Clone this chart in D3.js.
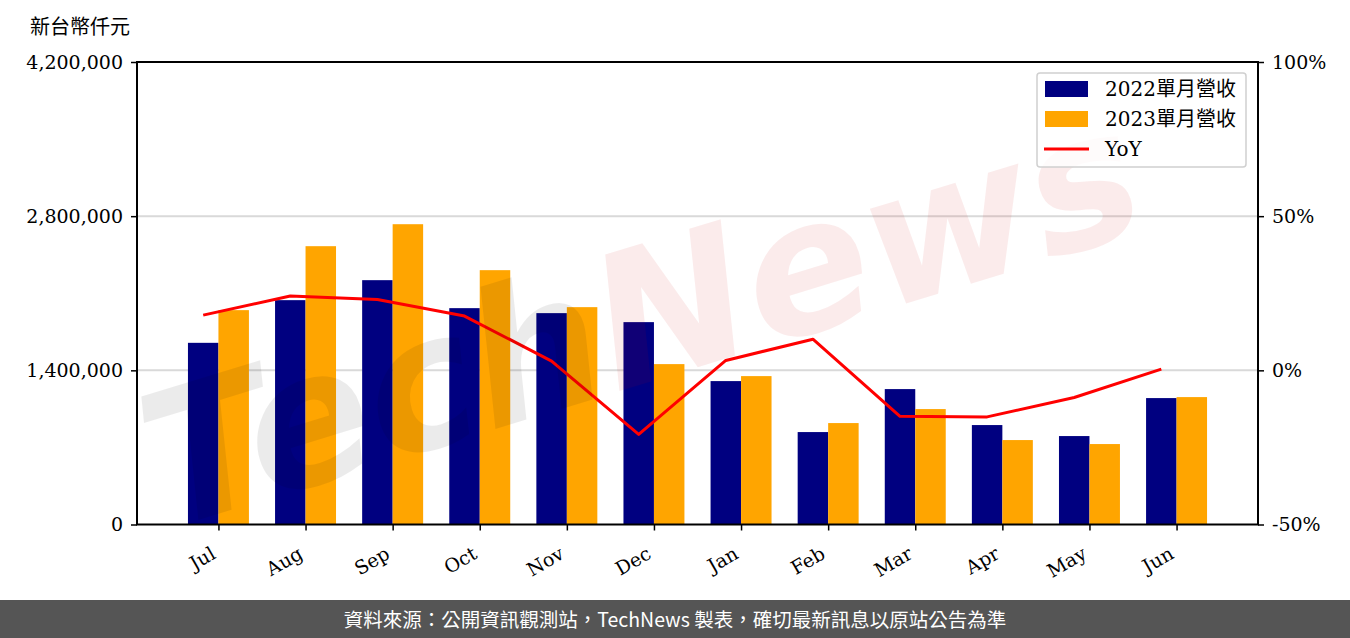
<!DOCTYPE html>
<html><head><meta charset="utf-8">
<script src="https://cdn.jsdelivr.net/npm/d3@7"></script>
<style>
html,body{margin:0;padding:0;background:#fff;}
svg{display:block;}
</style></head>
<body>
<script>
const months = ["Jul","Aug","Sep","Oct","Nov","Dec","Jan","Feb","Mar","Apr","May","Jun"];
const rev2022 = [1649800, 2037300, 2218800, 1964700, 1919400, 1837700, 1302300, 839400, 1229700, 903000, 803100, 1148000];
const rev2023 = [1946600, 2527400, 2727000, 2309600, 1973800, 1456500, 1347600, 921100, 1048200, 766800, 730500, 1157000];
const yoy = [17.9, 24.1, 23.0, 17.6, 3.0, -20.8, 3.2, 10.1, -14.9, -15.1, -8.8, 0.4];
const leftTicks = [0, 1400000, 2800000, 4200000];
const rightTicks = [-50, 0, 50, 100];
const legendLabels = ["2022單月營收", "2023單月營收", "YoY"];
const unitLabel = "新台幣仟元";
const footerText = "資料來源：公開資訊觀測站，TechNews 製表，確切最新訊息以原站公告為準";

const W = 1350, H = 638;
const L = 137, R = 1258, T = 62, B = 524.5;
const serif = "'DejaVu Serif','Noto Sans CJK TC',serif";
const barW = 0.35;

const svg = d3.select("body").append("svg").attr("width", W).attr("height", H);

const x = d3.scaleLinear().domain([-0.935, 11.935]).range([L, R]);
const y = d3.scaleLinear().domain([0, 4200000]).range([B, T]);
const y2 = d3.scaleLinear().domain([-50, 100]).range([B, T]);

// gridlines
svg.append("g").selectAll("line").data(leftTicks.filter(d => d > 0 && d < 4200000)).join("line")
  .attr("x1", L).attr("x2", R).attr("y1", d => y(d)).attr("y2", d => y(d))
  .attr("stroke", "#d9d9d9").attr("stroke-width", 2);

// bars
svg.append("g").selectAll("rect").data(rev2022).join("rect")
  .attr("x", (d, i) => x(i - barW)).attr("width", (d, i) => x(i) - x(i - barW))
  .attr("y", d => y(d)).attr("height", d => B - y(d)).attr("fill", "#000080");
svg.append("g").selectAll("rect").data(rev2023).join("rect")
  .attr("x", (d, i) => x(i)).attr("width", (d, i) => x(i + barW) - x(i))
  .attr("y", d => y(d)).attr("height", d => B - y(d)).attr("fill", "#FFA500");

// yoy line
const line = d3.line().x((d, i) => x(i - barW / 2)).y(d => y2(d));
svg.append("path").datum(yoy).attr("d", line).attr("fill", "none")
  .attr("stroke", "#ff0000").attr("stroke-width", 3).attr("stroke-linejoin", "round");

// watermark
const wm = svg.append("text")
  .attr("transform", "translate(645,330) rotate(-17)")
  .attr("text-anchor", "middle").attr("dominant-baseline", "middle")
  .style("font-family", "'DejaVu Sans',sans-serif").style("font-style", "italic")
  .style("font-weight", "bold").style("font-size", "185px");
wm.append("tspan").text("Tech").attr("fill", "#000").attr("fill-opacity", 0.08);
wm.append("tspan").text("News").attr("fill", "#d00000").attr("fill-opacity", 0.08);

// axes
const ax = svg.append("g").attr("transform", `translate(0,${B})`)
  .call(d3.axisBottom(x).tickValues(d3.range(12)).tickFormat(i => months[i]).tickSize(6).tickSizeOuter(0));
ax.select(".domain").remove();
ax.selectAll(".tick line").attr("stroke", "#000").attr("stroke-width", 1.5);
ax.selectAll(".tick text").attr("text-anchor", "end").attr("dy", 0).attr("y", 0)
  .attr("transform", "translate(-2,33) rotate(-30)")
  .style("font-family", serif).style("font-size", "19px").attr("fill", "#000");

const ayl = svg.append("g").attr("transform", `translate(${L},0)`)
  .call(d3.axisLeft(y).tickValues(leftTicks).tickFormat(d3.format(",")).tickSize(6).tickSizeOuter(0));
ayl.select(".domain").remove();
ayl.selectAll(".tick line").attr("stroke", "#000").attr("stroke-width", 1.5);
ayl.selectAll(".tick text").attr("x", -14).style("font-family", serif).style("font-size", "19px").attr("fill", "#000");

const ayr = svg.append("g").attr("transform", `translate(${R},0)`)
  .call(d3.axisRight(y2).tickValues(rightTicks).tickFormat(d => d + "%").tickSize(6).tickSizeOuter(0));
ayr.select(".domain").remove();
ayr.selectAll(".tick line").attr("stroke", "#000").attr("stroke-width", 1.5);
ayr.selectAll(".tick text").attr("x", 14).style("font-family", serif).style("font-size", "19px").attr("fill", "#000");

// frame
svg.append("rect").attr("x", L).attr("y", T).attr("width", R - L).attr("height", B - T)
  .attr("fill", "none").attr("stroke", "#000").attr("stroke-width", 2);

// unit label
svg.append("text").attr("x", 30).attr("y", 34).text(unitLabel)
  .style("font-family", serif).style("font-size", "20px").attr("fill", "#000");

// legend
const lg = svg.append("g").attr("transform", "translate(1037,73)");
lg.append("rect").attr("x", 0).attr("y", 0).attr("width", 209).attr("height", 94).attr("rx", 3)
  .attr("fill", "#fff").attr("fill-opacity", 0.8).attr("stroke", "#d0d0d0").attr("stroke-width", 1.5);
const colors = ["#000080", "#FFA500", "#ff0000"];
legendLabels.forEach((lab, i) => {
  const cy = 16 + i * 30;
  if (i < 2) {
    lg.append("rect").attr("x", 8).attr("y", cy - 8).attr("width", 43).attr("height", 16).attr("fill", colors[i]);
  } else {
    lg.append("line").attr("x1", 7).attr("x2", 52).attr("y1", cy).attr("y2", cy).attr("stroke", colors[i]).attr("stroke-width", 3);
  }
  lg.append("text").attr("x", 68).attr("y", cy).attr("dy", "0.35em").text(lab)
    .style("font-family", serif).style("font-size", "20px").attr("fill", "#000");
});

// footer
svg.append("rect").attr("x", 0).attr("y", 600).attr("width", W).attr("height", 38).attr("fill", "#555555");
svg.append("text").attr("x", 675).attr("y", 620).attr("text-anchor", "middle").attr("dy", "0.35em")
  .text(footerText).style("font-family", "'Noto Sans CJK TC',sans-serif").style("font-size", "19.5px").attr("fill", "#fff");
</script>
</body></html>
